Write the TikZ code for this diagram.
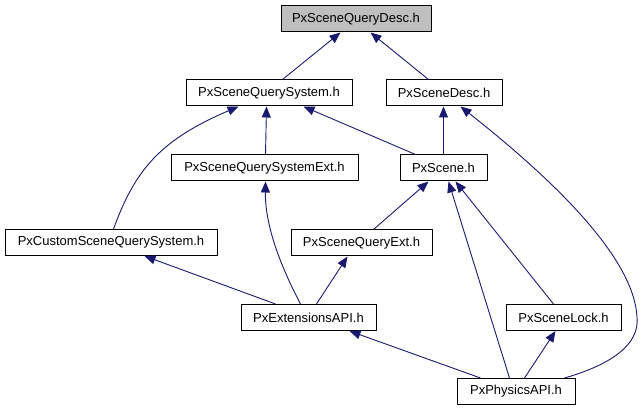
\documentclass[tikz,border=0pt]{standalone}
\usepackage{fontspec}
\setmainfont{Liberation Sans}
\usetikzlibrary{arrows.meta}
\definecolor{edgeblue}{HTML}{191970}
\definecolor{rootgray}{HTML}{BFBFBF}
\tikzset{
  box/.style={draw=black, line width=1pt, fill=white, inner sep=0pt, minimum height=26pt,
    font=\fontsize{13}{15}\selectfont, text=black},
  rootbox/.style={box, fill=rootgray},
  edge/.style={draw=edgeblue, line width=0.9pt, -{Triangle[length=11pt,width=9pt]}}
}
\begin{document}
\begin{tikzpicture}[x=1pt,y=-1pt]
\useasboundingbox (0,0) rectangle (643,411);
\node[rootbox, minimum width=150pt] (QD) at (356,19) {PxSceneQueryDesc.h};
\node[box, minimum width=166pt] (SQS) at (269,93) {PxSceneQuerySystem.h};
\node[box, minimum width=116pt] (SD) at (444,93) {PxSceneDesc.h};
\node[box, minimum width=187pt] (SQSE) at (264.5,168) {PxSceneQuerySystemExt.h};
\node[box, minimum width=87pt] (SC) at (443.5,168) {PxScene.h};
\node[box, minimum width=212pt] (CSQS) at (111,242.5) {PxCustomSceneQuerySystem.h};
\node[box, minimum width=141pt] (SQE) at (361.5,243) {PxSceneQueryExt.h};
\node[box, minimum width=135pt] (EA) at (308.5,317.5) {PxExtensionsAPI.h};
\node[box, minimum width=115pt] (SL) at (563.5,317.5) {PxSceneLock.h};
\node[box, minimum width=118pt] (PA) at (516,391.5) {PxPhysicsAPI.h};
% edges
\draw[edge] ([xshift=97]SQS.north west) -- ([xshift=60]QD.south west);
\draw[edge] ([xshift=43]SD.north west) -- ([xshift=90]QD.south west);
\draw[edge] ([xshift=109]CSQS.north west) .. controls (135,170) and (160,140) .. ([xshift=53]SQS.south west);
\draw[edge] ([xshift=95]SQSE.north west) -- ([xshift=81]SQS.south west);
\draw[edge] ([xshift=16]SC.north west) -- ([xshift=118]SQS.south west);
\draw[edge] ([xshift=44]SC.north west) -- ([xshift=58]SD.south west);
\draw[edge] ([xshift=108]PA.north west) .. controls (610,365) and (640,345) .. (637,317) .. controls (634,260) and (560,185) .. ([xshift=75]SD.south west);
\draw[edge] ([xshift=83]SQE.north west) -- ([xshift=29]SC.south west);
\draw[edge] ([xshift=53]PA.north west) -- ([xshift=49]SC.south west);
\draw[edge] ([xshift=48]SL.north west) -- ([xshift=56]SC.south west);
\draw[edge] ([xshift=60]EA.north west) .. controls (280,265) and (265,225) .. ([xshift=95]SQSE.south west);
\draw[edge] ([xshift=35]EA.north west) -- ([xshift=140]CSQS.south west);
\draw[edge] ([xshift=76]EA.north west) -- ([xshift=57]SQE.south west);
\draw[edge] ([xshift=24]PA.north west) -- ([xshift=109]EA.south west);
\draw[edge] ([xshift=68]PA.north west) -- ([xshift=50]SL.south west);
\end{tikzpicture}
\end{document}
